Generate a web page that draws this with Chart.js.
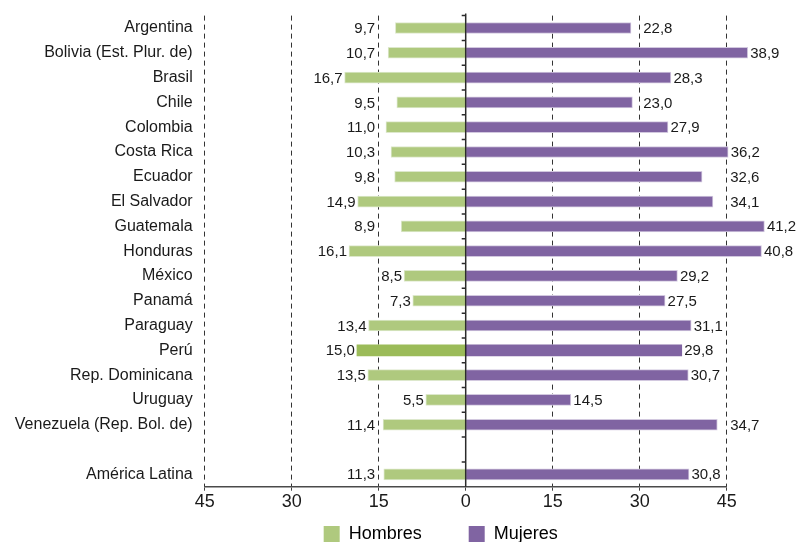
<!DOCTYPE html>
<html>
<head>
<meta charset="utf-8">
<title>Hombres y Mujeres</title>
<script src="https://cdn.jsdelivr.net/npm/chart.js@4/dist/chart.umd.min.js"></script>
<style>
  html, body { margin: 0; padding: 0; background: #fff; }
</style>
</head>
<body>
<canvas id="chart" width="799" height="542"></canvas>
<script>
// data
const countries = [
  "Argentina", "Bolivia (Est. Plur. de)", "Brasil", "Chile", "Colombia",
  "Costa Rica", "Ecuador", "El Salvador", "Guatemala", "Honduras",
  "México", "Panamá", "Paraguay", "Perú", "Rep. Dominicana",
  "Uruguay", "Venezuela (Rep. Bol. de)", "", "América Latina"
];
const hombres = [9.7, 10.7, 16.7, 9.5, 11.0, 10.3, 9.8, 14.9, 8.9, 16.1,
                 8.5, 7.3, 13.4, 15.0, 13.5, 5.5, 11.4, null, 11.3];
const mujeres = [22.8, 38.9, 28.3, 23.0, 27.9, 36.2, 32.6, 34.1, 41.2, 40.8,
                 29.2, 27.5, 31.1, 29.8, 30.7, 14.5, 34.7, null, 30.8];
const tickLabels = ["45", "30", "15", "0", "15", "30", "45"];
const highlight = "Perú";

const green = "#afc97e";
const greenDark = "#9bbb59";
const purple = "#8064a2";
const textColor = "#1a1a1a";
const fontFamily = "'Liberation Sans', Arial, sans-serif";

Chart.defaults.font.family = fontFamily;
Chart.defaults.color = textColor;

const isHighlight = c => countries[c.dataIndex] === highlight;

// Zero axis with small ticks between categories
const zeroAxis = {
  id: "zeroAxis",
  afterDatasetsDraw(chart) {
    const { ctx, chartArea, scales: { x, y } } = chart;
    const x0 = x.getPixelForValue(0);
    const band = y.getPixelForValue(1) - y.getPixelForValue(0);
    ctx.save();
    ctx.strokeStyle = "#2b2b2b";
    ctx.lineWidth = 1.5;
    ctx.beginPath();
    ctx.moveTo(x0, chartArea.top - 2);
    ctx.lineTo(x0, chartArea.bottom);
    for (let i = 0; i < countries.length; i++) {
      const yy = y.getPixelForValue(i) - band / 2;
      ctx.moveTo(x0 - 4, yy);
      ctx.lineTo(x0, yy);
    }
    ctx.stroke();
    ctx.restore();
  }
};

// Value labels, nudged off the dashed grid lines
const valueLabels = {
  id: "valueLabels",
  afterDatasetsDraw(chart) {
    const { ctx, scales: { x } } = chart;
    const grid = x.ticks.filter(t => t.value !== 0).map(t => x.getPixelForValue(t.value));
    ctx.save();
    ctx.font = "15px " + fontFamily;
    ctx.fillStyle = textColor;
    ctx.textBaseline = "middle";
    [hombres, mujeres].forEach((values, di) => {
      chart.getDatasetMeta(di).data.forEach((bar, i) => {
        const v = values[i];
        if (v == null) return;
        const text = v.toFixed(1).replace(".", ",");
        const w = ctx.measureText(text).width;
        if (di === 0) {
          let right = bar.x - 2;
          const hit = grid.find(g => g > right - w - 1 && g < right + 1);
          if (hit !== undefined) right = hit - 3.5;
          ctx.textAlign = "right";
          ctx.fillText(text, right, bar.y + 1);
        } else {
          let left = bar.x + 2.5;
          const hit = grid.find(g => g > left - 1 && g < left + w + 1);
          if (hit !== undefined) left = hit + 3.5;
          ctx.textAlign = "left";
          ctx.fillText(text, left, bar.y + 1);
        }
      });
    });
    ctx.restore();
  }
};

// legend sits a little left of the plot centre
const legendShift = {
  id: "legendShift",
  afterLayout(chart) {
    chart.legend.left -= 7;
    chart.legend.right -= 7;
  }
};

const spacer = { text: "", fillStyle: "rgba(0,0,0,0)", strokeStyle: "rgba(0,0,0,0)", lineWidth: 0 };

new Chart(document.getElementById("chart"), {
  type: "bar",
  data: {
    labels: countries,
    datasets: [
      {
        label: "Hombres",
        data: hombres.map(v => v == null ? null : -v),
        backgroundColor: c => isHighlight(c) ? greenDark : green,
        borderColor: "#dde8cc",
        borderWidth: c => isHighlight(c) ? 0 : 1,
        barThickness: 11,
        clip: false
      },
      {
        label: "Mujeres",
        data: mujeres,
        backgroundColor: purple,
        borderColor: "#d2c8df",
        borderWidth: c => isHighlight(c) ? 0 : 1,
        barThickness: 11,
        clip: false
      }
    ]
  },
  options: {
    indexAxis: "y",
    responsive: false,
    animation: false,
    layout: { padding: { left: 0, right: 72.3, top: 15.6, bottom: 0 } },
    scales: {
      x: {
        stacked: true,
        min: -36,
        max: 36,
        afterFit: s => { s.height = 27.3; s.paddingLeft = 0; s.paddingRight = 0; },
        ticks: {
          stepSize: 12,
          padding: 1,
          font: { size: 18 },
          color: textColor,
          maxRotation: 0,
          callback: (v, i) => tickLabels[i]
        },
        grid: {
          color: "#333",
          lineWidth: 1,
          tickLength: 4,
          tickColor: "#404040",
          tickBorderDash: []
        },
        border: { display: true, color: "#4a4a4a", width: 1.5, dash: [5, 4] }
      },
      y: {
        stacked: true,
        afterFit: s => { s.width = 204.7; s.paddingTop = 0; s.paddingBottom = 0; },
        grid: { display: false, drawTicks: false },
        border: { display: false },
        ticks: { padding: 12, font: { size: 16 }, color: textColor, autoSkip: false }
      }
    },
    plugins: {
      tooltip: { enabled: false },
      legend: {
        position: "bottom",
        fullSize: false,
        maxHeight: 28,
        onClick: null,
        labels: {
          boxWidth: 16,
          boxHeight: 16,
          padding: 11,
          font: { size: 18 },
          color: textColor,
          generateLabels: () => [
            { text: "Hombres", fillStyle: green, strokeStyle: green, lineWidth: 0, datasetIndex: 0 },
            spacer,
            { text: "Mujeres", fillStyle: purple, strokeStyle: purple, lineWidth: 0, datasetIndex: 1 },
            spacer
          ]
        }
      }
    }
  },
  plugins: [zeroAxis, valueLabels, legendShift]
});
</script>
</body>
</html>
